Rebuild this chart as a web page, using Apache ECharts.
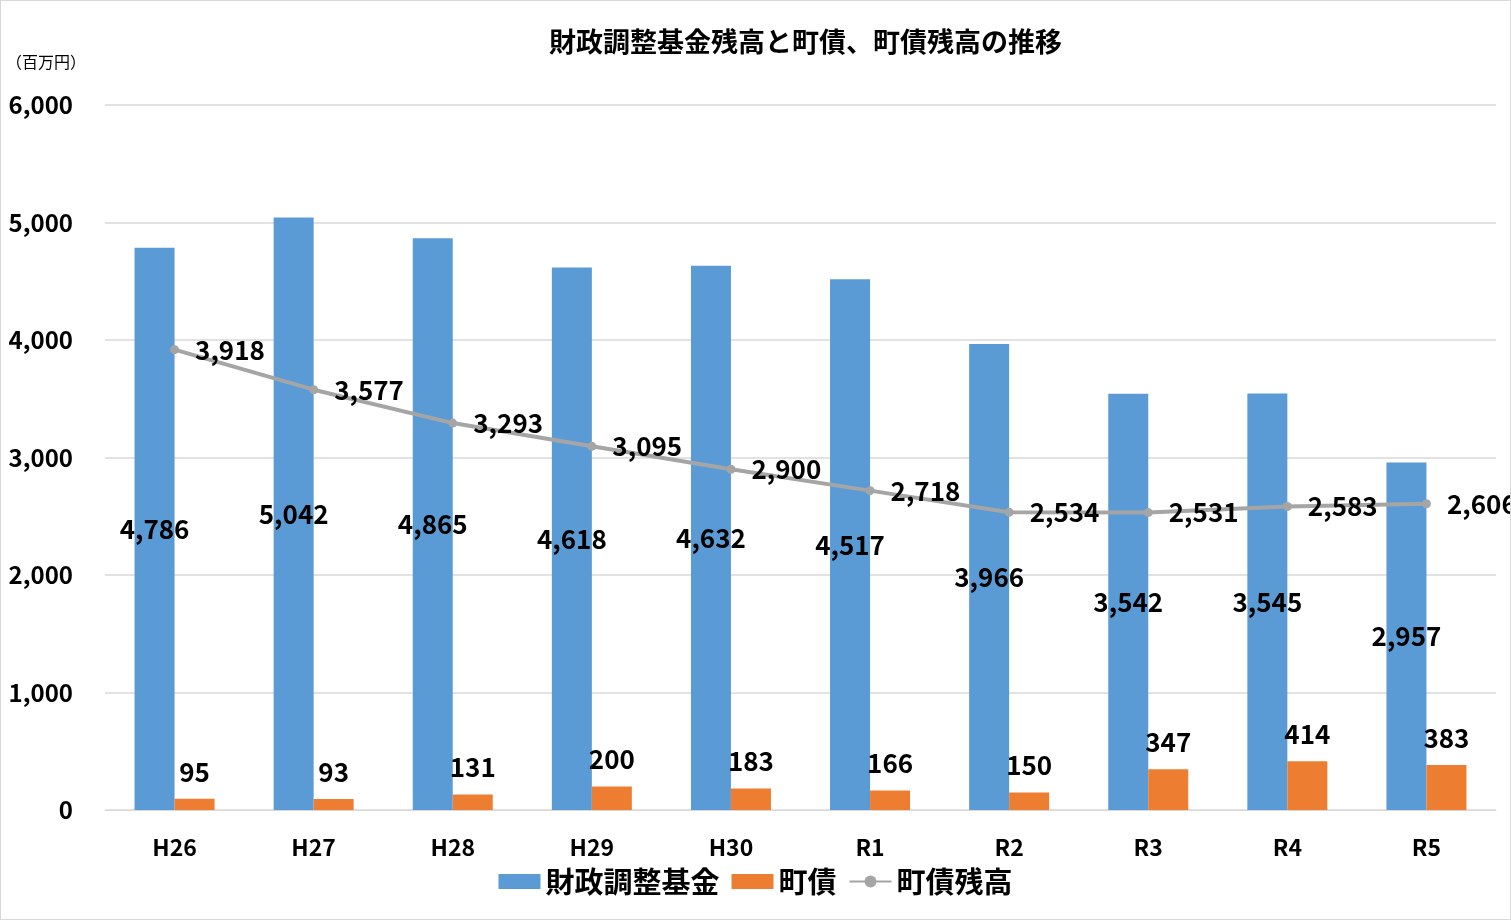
<!DOCTYPE html>
<html><head><meta charset="utf-8">
<script src="https://cdn.jsdelivr.net/npm/echarts@6/dist/echarts.min.js"></script>
<style>html,body{margin:0;padding:0;background:#fff}#c{width:1511px;height:920px;box-sizing:border-box;border:1px solid #d9d9d9}</style>
</head><body><div id="c"></div>
<script>
const categories=['H26','H27','H28','H29','H30','R1','R2','R3','R4','R5'];
const fundValues=[4786,5042,4865,4618,4632,4517,3966,3542,3545,2957];
const bondValues=[95,93,131,200,183,166,150,347,414,383];
const balanceValues=[3918,3577,3293,3095,2900,2718,2534,2531,2583,2606];
const yTicks={min:0,max:6000,interval:1000};
const font='"Noto Sans CJK JP", sans-serif';
const lbl={color:'#000',fontWeight:'bold',fontSize:26,fontFamily:font,formatter:p=>p.value.toLocaleString('en-US')};
const chart=echarts.init(document.getElementById('c'));
chart.setOption({
 animation:false,
 title:{text:'財政調整基金残高と町債、町債残高の推移',left:543,top:22,textStyle:{fontSize:27,fontWeight:'bold',color:'#000',fontFamily:font}},
 graphic:[{type:'text',left:5,top:53,style:{text:'（百万円）',fontSize:16,fill:'#000',fontFamily:font}}],
 legend:{bottom:18,left:'center',itemGap:12,itemWidth:42,itemHeight:15,textStyle:{fontSize:29,fontWeight:'bold',color:'#000',fontFamily:font},
  data:[{name:'財政調整基金',icon:'rect'},{name:'町債',icon:'rect'},{name:'町債残高'}]},
 grid:{left:104,right:14,top:104,bottom:109},
 xAxis:{type:'category',data:categories,axisTick:{show:false},axisLine:{lineStyle:{color:'#d9d9d9'}},
  axisLabel:{color:'#000',fontSize:23,fontWeight:'bold',fontFamily:font,margin:26}},
 yAxis:{type:'value',min:yTicks.min,max:yTicks.max,interval:yTicks.interval,
  axisLabel:{color:'#000',fontSize:24,fontWeight:'bold',fontFamily:font,margin:32,formatter:v=>v.toLocaleString('en-US')},
  splitLine:{lineStyle:{color:'#d9d9d9',width:1.5}}},
 series:[
  {name:'財政調整基金',type:'bar',data:fundValues,barWidth:40,barGap:'0%',itemStyle:{color:'#5b9bd5'},label:Object.assign({show:true,position:'inside'},lbl)},
  {name:'町債',type:'bar',data:bondValues,barWidth:40,itemStyle:{color:'#ed7d31'},label:Object.assign({show:true,position:'top',distance:14},lbl)},
  {name:'町債残高',type:'line',data:balanceValues,symbol:'circle',symbolSize:9,lineStyle:{color:'#a5a5a5',width:4},itemStyle:{color:'#a5a5a5'},
   label:Object.assign({show:true,position:'right',distance:16},lbl),z:5}
 ]
});
</script></body></html>
